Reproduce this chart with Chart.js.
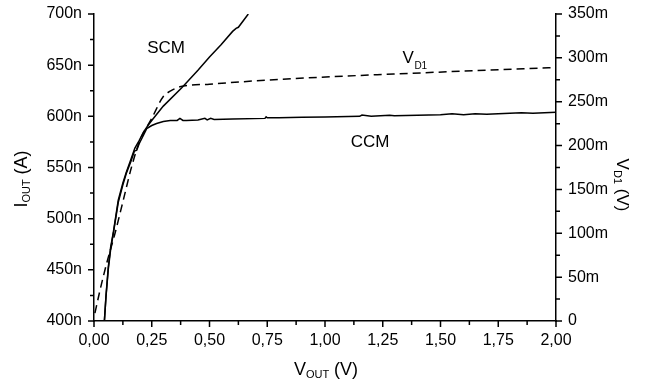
<!DOCTYPE html>
<html>
<head>
<meta charset="utf-8">
<script src="https://cdn.jsdelivr.net/npm/chart.js@4"></script>
<style>
  html, body { margin: 0; padding: 0; background: #fff; }
</style>
</head>
<body>
<canvas id="chart" width="652" height="383"></canvas>
<script>
// V_OUT (V) vs I_OUT (nA) - SCM curve
const scmV = [0.045, 0.052, 0.062, 0.072, 0.084, 0.105, 0.125, 0.141, 0.160, 0.177, 0.195, 0.213, 0.230, 0.250, 0.300, 0.380, 0.450, 0.500, 0.550, 0.600, 0.615, 0.625, 0.668];
const scmI = [400, 425, 453, 472, 487, 518, 535, 546, 558, 569, 576, 584, 590, 596, 610, 628, 645, 658, 670, 683, 686, 687, 700];

// CCM curve (saturates near 600n)
const ccmV = [0.045, 0.052, 0.062, 0.072, 0.084, 0.105, 0.125, 0.141, 0.160, 0.175, 0.185, 0.195, 0.213, 0.228, 0.250, 0.271, 0.300, 0.330, 0.360, 0.372, 0.385, 0.400, 0.450, 0.480, 0.490, 0.505, 0.520, 0.600, 0.740, 0.745, 0.750, 0.800, 0.900, 1.000, 1.100, 1.150, 1.160, 1.200, 1.280, 1.300, 1.400, 1.500, 1.550, 1.600, 1.650, 1.700, 1.800, 1.850, 1.900, 2.000];
const ccmI = [400, 424, 451, 470, 486, 516, 533, 545, 556, 566, 567, 573, 581, 588, 591, 593, 595, 596, 596, 598, 596, 596, 596.5, 598, 596.5, 598, 597, 597.5, 598, 599.5, 598.5, 598.7, 599, 599.3, 599.8, 600, 601.3, 600, 601, 600.5, 601, 601.5, 602.5, 601.5, 602.5, 602, 603, 603.5, 603, 604];

// V_D1 (mV) dashed curve, right axis
const vd1V = [0.004, 0.026, 0.055, 0.091, 0.127, 0.163, 0.199, 0.250, 0.300, 0.330, 0.372, 0.500, 0.805, 1.426, 2.000];
const vd1Mv = [9, 35, 66, 100, 138, 176, 206, 231, 256, 262, 267, 270, 275.5, 283, 289];

const xTicks = [0, 0.25, 0.5, 0.75, 1, 1.25, 1.5, 1.75, 2];

const pts = (xs, ys) => xs.map((x, i) => ({ x: x, y: ys[i] }));
const FONT = '"Liberation Sans", Arial, sans-serif';

// outward ticks (major + minor), axis titles and curve labels
const decorations = {
  id: 'decorations',
  afterDraw(chart) {
    const ctx = chart.ctx;
    const sx = chart.scales.x, sl = chart.scales.y, sr = chart.scales.y1;
    const area = chart.chartArea;
    ctx.save();
    ctx.strokeStyle = '#000';
    ctx.lineWidth = 1.5;
    ctx.beginPath();
    for (let i = 0; i <= 16; i++) {
      const px = sx.getPixelForValue(i * 0.125);
      const len = i % 2 === 0 ? 6 : 4;
      ctx.moveTo(px, area.bottom); ctx.lineTo(px, area.bottom + len);
    }
    for (let i = 0; i <= 12; i++) {
      const py = sl.getPixelForValue(400 + i * 25);
      const len = i % 2 === 0 ? 6 : 4;
      ctx.moveTo(area.left, py); ctx.lineTo(area.left - len, py);
    }
    for (let i = 0; i <= 14; i++) {
      const py = sr.getPixelForValue(i * 25);
      const len = i % 2 === 0 ? 6 : 4;
      ctx.moveTo(area.right, py); ctx.lineTo(area.right + len, py);
    }
    ctx.stroke();

    ctx.fillStyle = '#000';
    ctx.textBaseline = 'alphabetic';

    // draws main text + subscript + rest along current x direction
    function subText(x, y, main, sub, rest, big, small, drop) {
      ctx.textAlign = 'left';
      ctx.font = big + 'px ' + FONT;
      const w1 = ctx.measureText(main).width;
      const w3 = ctx.measureText(rest).width;
      ctx.font = small + 'px ' + FONT;
      const w2 = ctx.measureText(sub).width;
      let cx = x - (w1 + w2 + w3) / 2;
      ctx.font = big + 'px ' + FONT;
      ctx.fillText(main, cx, y); cx += w1;
      ctx.font = small + 'px ' + FONT;
      ctx.fillText(sub, cx, y + drop); cx += w2;
      ctx.font = big + 'px ' + FONT;
      ctx.fillText(rest, cx, y);
    }

    // x title
    subText(326, 375, 'V', 'OUT', ' (V)', 18, 11, 3);

    // left title
    ctx.save();
    ctx.translate(27, 179);
    ctx.rotate(-Math.PI / 2);
    subText(0, 0, 'I', 'OUT', ' (A)', 18, 11, 3);
    ctx.restore();

    // right title
    ctx.save();
    ctx.translate(617, 185);
    ctx.rotate(Math.PI / 2);
    subText(0, 0, 'V', 'D1', ' (V)', 17, 11, 3);
    ctx.restore();

    // curve labels
    ctx.font = '17px ' + FONT;
    ctx.textAlign = 'center';
    ctx.fillText('SCM', sx.getPixelForValue(0.312), sl.getPixelForValue(662));
    ctx.fillText('CCM', sx.getPixelForValue(1.195), sl.getPixelForValue(570));
    ctx.textAlign = 'left';
    const vx = sx.getPixelForValue(1.335), vy = sr.getPixelForValue(294);
    ctx.fillText('V', vx, vy);
    ctx.font = '10px ' + FONT;
    ctx.fillText('D1', vx + 12, vy + 6);
    ctx.restore();
  }
};

const lineStyle = { showLine: true, pointRadius: 0, borderColor: '#000', borderWidth: 1.5, fill: false, tension: 0 };
const noPad = s => { s.paddingTop = 0; s.paddingBottom = 0; };

new Chart(document.getElementById('chart'), {
  type: 'scatter',
  data: {
    datasets: [
      { ...lineStyle, label: 'SCM', data: pts(scmV, scmI), yAxisID: 'y' },
      { ...lineStyle, label: 'CCM', data: pts(ccmV, ccmI), yAxisID: 'y' },
      { ...lineStyle, label: 'VD1', data: pts(vd1V, vd1Mv), yAxisID: 'y1', borderDash: [8, 5], cubicInterpolationMode: 'monotone' }
    ]
  },
  options: {
    responsive: false,
    devicePixelRatio: 1,
    animation: false,
    layout: { padding: { top: 14, left: 0, right: 0, bottom: 0 } },
    plugins: { legend: { display: false }, tooltip: { enabled: false } },
    scales: {
      x: {
        type: 'linear', min: 0, max: 2,
        afterBuildTicks: s => { s.ticks = xTicks.map(v => ({ value: v })); },
        afterFit: s => { s.height = 62; s.paddingLeft = 0; s.paddingRight = 0; },
        grid: { display: false, drawTicks: false },
        border: { display: true, color: '#000', width: 1.5 },
        ticks: {
          color: '#000', padding: 10, maxRotation: 0,
          font: { family: FONT, size: 16 },
          callback: v => v.toFixed(2).replace('.', ',')
        }
      },
      y: {
        position: 'left', min: 400, max: 700,
        afterFit: s => { s.width = 94; noPad(s); },
        grid: { display: false, drawTicks: false },
        border: { display: true, color: '#000', width: 1.5 },
        ticks: {
          color: '#000', padding: 12, stepSize: 50,
          font: { family: FONT, size: 16 },
          callback: v => v + 'n'
        }
      },
      y1: {
        position: 'right', min: 0, max: 350,
        afterFit: s => { s.width = 96; noPad(s); },
        grid: { display: false, drawTicks: false },
        border: { display: true, color: '#000', width: 1.5 },
        ticks: {
          color: '#000', padding: 12, stepSize: 50,
          font: { family: FONT, size: 16 },
          callback: v => v === 0 ? '0' : v + 'm'
        }
      }
    }
  },
  plugins: [decorations]
});
</script>
</body>
</html>
